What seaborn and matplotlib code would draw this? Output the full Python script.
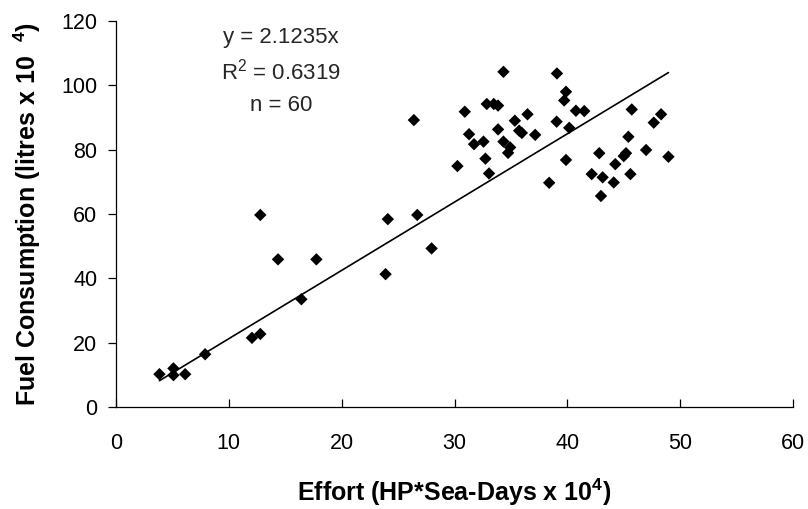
import numpy as np
import pandas as pd
import matplotlib
matplotlib.use("Agg")
import matplotlib.pyplot as plt
import seaborn as sns

# Effort (HP*Sea-Days x 10^4) and fuel consumption (litres x 10^4) per vessel
effort = [
    3.85, 5.09, 5.09, 6.13, 7.90, 12.05, 12.79, 12.79, 14.36, 16.43,
    17.76, 23.89, 24.09, 26.70, 27.97, 26.40,
    34.34, 39.08, 39.88, 39.72, 30.91, 32.86, 33.86, 33.48, 36.47, 40.76,
    41.50, 45.71, 35.35, 39.05, 31.29, 33.86, 35.73, 35.97, 37.15, 40.17,
    31.73, 32.57, 34.34, 34.93, 34.75, 32.74, 30.26, 33.06, 39.88, 38.39,
    45.41, 45.20, 45.00, 44.25, 42.83, 42.16, 43.13, 44.11, 45.59, 42.98,
    48.31, 47.66, 46.98, 48.96,
]
fuel = [
    10.2, 12.0, 9.9, 10.2, 16.4, 21.5, 22.7, 59.7, 45.9, 33.5,
    45.9, 41.3, 58.4, 59.7, 49.3, 89.2,
    104.2, 103.7, 98.0, 95.3, 91.8, 94.2, 93.7, 94.2, 91.0, 92.1,
    92.0, 92.5, 89.0, 88.7, 84.8, 86.3, 85.9, 85.2, 84.6, 86.8,
    81.7, 82.5, 82.5, 80.7, 79.0, 77.2, 74.9, 72.6, 76.8, 69.7,
    84.0, 78.9, 78.0, 75.5, 78.9, 72.4, 71.4, 69.8, 72.4, 65.6,
    91.0, 88.4, 79.9, 77.8,
]

# Regression through the origin
slope = 2.1235
r_squared = 0.6319

x_ticks = [0, 10, 20, 30, 40, 50, 60]
y_ticks = [0, 20, 40, 60, 80, 100, 120]

df = pd.DataFrame({"effort": effort, "fuel": fuel})

sns.set_theme(style="ticks")
plt.rcParams["font.family"] = ["Liberation Sans", "DejaVu Sans"]
plt.rcParams["mathtext.fontset"] = "custom"
plt.rcParams["mathtext.rm"] = "Liberation Sans"
plt.rcParams["mathtext.bf"] = "Liberation Sans:bold"
plt.rcParams["mathtext.default"] = "regular"

fig = plt.figure(figsize=(8.08, 5.09), dpi=100)
fig.patch.set_facecolor("white")
ax = fig.add_axes([116 / 808, 102 / 509, 677 / 808, 386 / 509])
ax.set_facecolor("white")

sns.scatterplot(data=df, x="effort", y="fuel", marker="D", color="black",
                s=40, edgecolor="none", linewidth=0, ax=ax, zorder=3)

# Trend line over the observed effort range
line_x = np.array([df["effort"].min(), df["effort"].max()])
sns.lineplot(x=line_x, y=slope * line_x, color="black", linewidth=1.2,
             ax=ax, zorder=2)

ax.set_xlim(x_ticks[0], x_ticks[-1])
ax.set_ylim(y_ticks[0], y_ticks[-1])
ax.set_xticks(x_ticks)
ax.set_yticks(y_ticks)
ax.set_xticklabels([str(t) for t in x_ticks])
ax.set_yticklabels([str(t) for t in y_ticks])

for side in ("top", "right"):
    ax.spines[side].set_visible(False)
for side in ("left", "bottom"):
    ax.spines[side].set_color("black")
    ax.spines[side].set_linewidth(0.9)

ax.tick_params(axis="x", direction="in", length=5.5, width=0.9,
               labelsize=15.5, pad=19, colors="black")
ax.tick_params(axis="y", direction="out", length=5.5, width=0.9,
               labelsize=15.5, pad=8, colors="black")

ax.set_xlabel("Effort (HP*Sea-Days x 10$^{4}$)", fontsize=18,
              fontweight="bold", color="black")
ax.set_ylabel("Fuel Consumption (litres x 10  $^{4}$)", fontsize=18,
              fontweight="bold", color="black")
ax.xaxis.set_label_coords(0.5, -0.18)
ax.yaxis.set_label_coords(-0.108, 0.5)

stats_x = 14.6
ax.text(stats_x, 115.0, f"y = {slope}x", ha="center", va="center",
        fontsize=16)
ax.text(stats_x, 104.3, f"R$^{{2}}$ = {r_squared}", ha="center",
        va="center", fontsize=16)
ax.text(stats_x, 93.6, f"n = {len(df)}", ha="center", va="center",
        fontsize=16)

fig.savefig("out.png", dpi=100, facecolor="white")
